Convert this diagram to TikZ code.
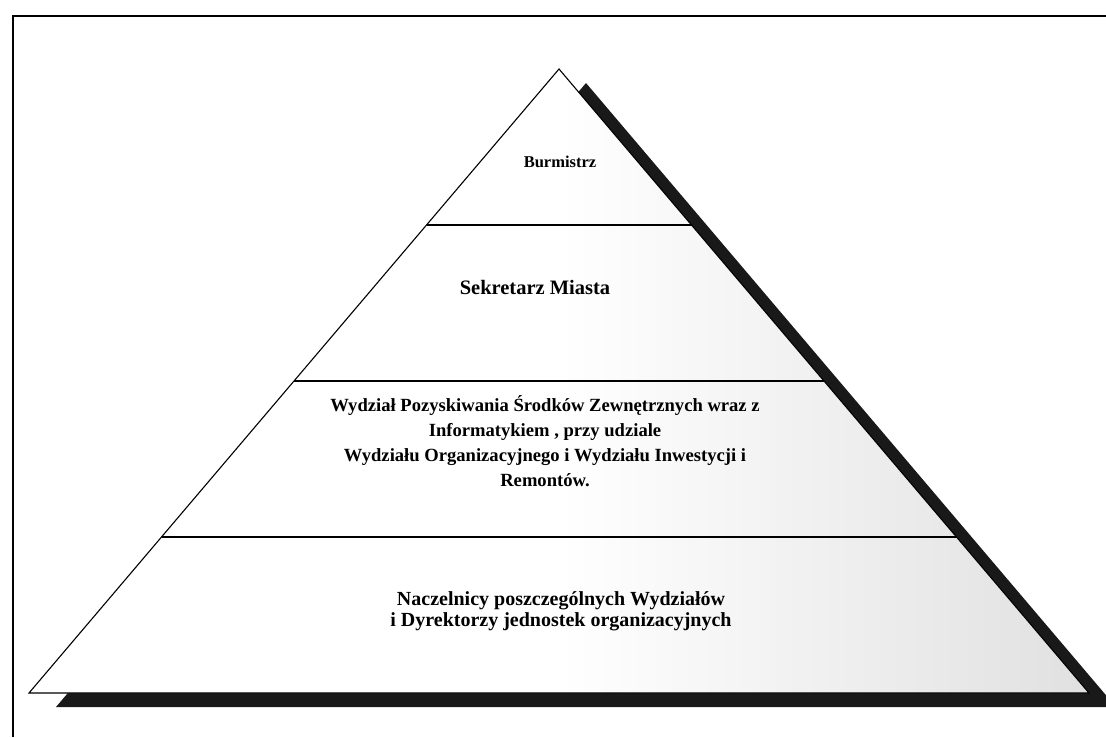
\documentclass[tikz,border=0pt]{standalone}
\usepackage{fontspec}
\setmainfont{Liberation Serif}
\usetikzlibrary{positioning,calc}
\pgfdeclarehorizontalshading{speckle}{100bp}{color(0bp)=(white); color(50bp)=(white); color(100bp)=(black!24)}
\tikzstyle{level} = [align=center, text=black, inner sep=1pt]
\tikzstyle{divider} = [draw, line width=2.2pt]
\tikzstyle{outline} = [draw, line width=1.1pt, line join=miter]
\tikzstyle{dropshadow} = [fill=black!90]

\begin{document}
\begin{tikzpicture}[x=1pt,y=-1pt]
    \useasboundingbox (0,0) rectangle (1106,737);
    \clip (0,0) rectangle (1106,737);
    % Frame
    \draw[line width=1.5pt] (13,737) -- (13,16) -- (1106,16);

    % Corners of the pyramid
    \coordinate (apex) at (559,69);
    \coordinate (bl) at (29,693);
    \coordinate (br) at (1089,693);

    % Shadow and body
    \path[dropshadow] ($(apex)+(27,14)$) -- ($(br)+(27,14)$) -- ($(bl)+(27,14)$) -- cycle;
    \path[shading=speckle] (apex) -- (br) -- (bl) -- cycle;
    \path[outline] (apex) -- (br) -- (bl) -- cycle;

    % Levels
    \foreach \p in {0.25,0.5,0.75}
        \path[divider] ($(apex)!\p!(bl)$) -- ($(apex)!\p!(br)$);

    % Place nodes
    \node[level, font=\bfseries\fontsize{16.5}{19}\selectfont] (burm) at (560,162) {Burmistrz};
    \node[level, font=\bfseries\fontsize{20.5}{24}\selectfont] (sekr) at (535,287) {Sekretarz Miasta};
    \node[level, font=\bfseries\fontsize{18.6}{25}\selectfont] (wydz) at (545,441)
        {Wydział Pozyskiwania Środków Zewnętrznych wraz z\\
         Informatykiem , przy udziale\\
         Wydziału Organizacyjnego i Wydziału Inwestycji i\\
         Remontów.};
    \node[level, font=\bfseries\fontsize{20}{21}\selectfont] (nacz) at (561,611)
        {Naczelnicy poszczególnych Wydziałów\\
         i Dyrektorzy jednostek organizacyjnych};
\end{tikzpicture}
\end{document}
